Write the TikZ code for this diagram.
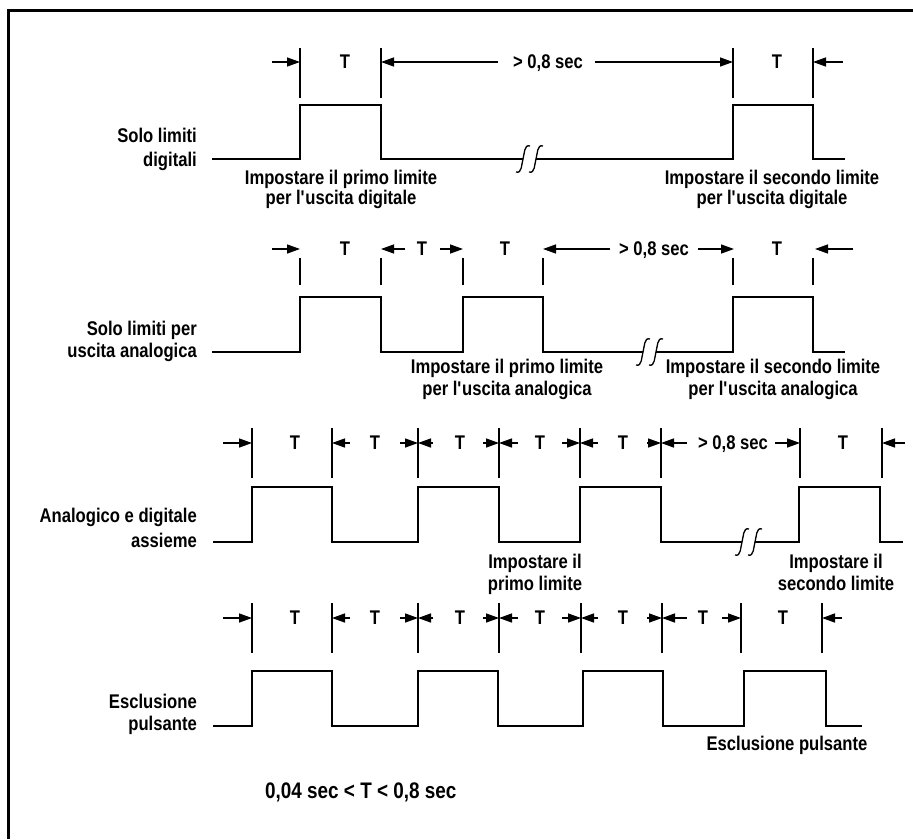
\documentclass[tikz,border=0pt]{standalone}
\usepackage{fontspec}
\setmainfont{Liberation Sans}[FakeStretch=0.84]
\usetikzlibrary{arrows.meta}
\begin{document}
\begin{tikzpicture}[x=1pt,y=-1pt,
  wave/.style={line width=1.5pt, line join=miter},
  tickline/.style={line width=1.2pt},
  dim/.style={line width=1.4pt, -{Triangle[length=13pt,width=9pt]}},
  lbl/.style={font=\fontsize{19.8}{20}\selectfont\bfseries, inner sep=0pt, anchor=base},
  lblr/.style={lbl, anchor=base east},
  squig/.pic={\draw[line width=1.3pt] (-7,13) .. controls (-1,15) and (-1.5,5) .. (0,0) .. controls (1.5,-5) and (1,-15) .. (7,-13);}]
\useasboundingbox (0,0) rectangle (913,839);
% frame
\draw[line width=2.8pt] (8.7,839) -- (8.7,10.7) -- (913,10.7);

% ---------- Row 1 ----------
\node[lblr] (r1a) at (197,142) {Solo limiti};
\node[lblr] (r1b) at (197,166) {digitali};
\draw[wave] (212,159) -- (300,159) -- (300,105) -- (381,105) -- (381,159) -- (523,159);
\draw[wave] (536,159) -- (733,159) -- (733,105) -- (813,105) -- (813,159) -- (845,159);
\pic at (523,159) {squig};
\pic at (536,159) {squig};
\foreach \x in {300,381,733,813} \draw[tickline] (\x,48) -- (\x,98);
\draw[dim] (272,62) -- (300,62);
\draw[dim] (498,62) -- (381,62);
\draw[dim] (595,62) -- (733,62);
\draw[dim] (843,62) -- (813,62);
\node[lbl] (t1a) at (345,68) {T};
\node[lbl] (s1) at (548,68) {> 0,8 sec};
\node[lbl] (t1b) at (777,68) {T};
\node[lbl] (i1a) at (341,184) {Impostare il primo limite};
\node[lbl] (i1b) at (341,204) {per l\textquotesingle uscita digitale};
\node[lbl] (i1c) at (772,184) {Impostare il secondo limite};
\node[lbl] (i1d) at (772,204) {per l\textquotesingle uscita digitale};

% ---------- Row 2 ----------
\node[lblr] (r2a) at (197,335) {Solo limiti per};
\node[lblr] (r2b) at (197,357) {uscita analogica};
\draw[wave] (212,352) -- (300,352) -- (300,297) -- (381,297) -- (381,352) -- (463,352) -- (463,297) -- (543,297) -- (543,352) -- (643,352);
\draw[wave] (656,352) -- (733,352) -- (733,297) -- (813,297) -- (813,352) -- (845,352);
\pic at (643,352) {squig};
\pic at (656,352) {squig};
\foreach \x in {300,381,463,543,733,813} \draw[tickline] (\x,258) -- (\x,285);
\draw[dim] (272,249) -- (300,249);
\draw[dim] (405,249) -- (381,249);
\draw[dim] (440,249) -- (463,249);
\draw[dim] (610,249) -- (543,249);
\draw[dim] (698,249) -- (734,249);
\draw[dim] (853,249) -- (815,249);
\node[lbl] (t2a) at (345,255) {T};
\node[lbl] (t2b) at (422,255) {T};
\node[lbl] (t2c) at (505,255) {T};
\node[lbl] (s2) at (654,255) {> 0,8 sec};
\node[lbl] (t2d) at (777,255) {T};
\node[lbl] (i2a) at (507,373) {Impostare il primo limite};
\node[lbl] (i2b) at (507,395) {per l\textquotesingle uscita analogica};
\node[lbl] (i2c) at (773,373) {Impostare il secondo limite};
\node[lbl] (i2d) at (773,395) {per l\textquotesingle uscita analogica};

% ---------- Row 3 ----------
\node[lblr] (r3a) at (197,522) {Analogico e digitale};
\node[lblr] (r3b) at (197,547) {assieme};
\draw[wave] (213,542) -- (252,542) -- (252,487) -- (332,487) -- (332,542) -- (418,542) -- (418,487) -- (499,487) -- (499,542) -- (580,542) -- (580,487) -- (661,487) -- (661,542) -- (742,542);
\draw[wave] (755,542) -- (799,542) -- (799,487) -- (880,487) -- (880,542) -- (903,542);
\pic at (742,542) {squig};
\pic at (755,542) {squig};
\foreach \x in {252,332,418,499,580,661,800,882} \draw[tickline] (\x,428) -- (\x,478);
\draw[dim] (223,443) -- (252,443);
\draw[dim] (350,443) -- (332,443);
\draw[dim] (400,443) -- (418,443);
\draw[dim] (433,443) -- (418,443);
\draw[dim] (483,443) -- (499,443);
\draw[dim] (518,443) -- (499,443);
\draw[dim] (562,443) -- (580,443);
\draw[dim] (598,443) -- (580,443);
\draw[dim] (647,443) -- (661,443);
\draw[dim] (687,443) -- (661,443);
\draw[dim] (775,443) -- (800,443);
\draw[dim] (905,443) -- (882,443);
\node[lbl] (t3a) at (295,449) {T};
\node[lbl] (t3b) at (375,449) {T};
\node[lbl] (t3c) at (460,449) {T};
\node[lbl] (t3d) at (540,449) {T};
\node[lbl] (t3e) at (623,449) {T};
\node[lbl] (s3) at (733,449) {> 0,8 sec};
\node[lbl] (t3f) at (843,449) {T};
\node[lbl] (i3a) at (535,568) {Impostare il};
\node[lbl] (i3b) at (535,590) {primo limite};
\node[lbl] (i3c) at (836,568) {Impostare il};
\node[lbl] (i3d) at (836,590) {secondo limite};

% ---------- Row 4 ----------
\node[lblr] (r4a) at (197,708) {Esclusione};
\node[lblr] (r4b) at (197,730) {pulsante};
\draw[wave] (213,726) -- (252,726) -- (252,671) -- (332,671) -- (332,726) -- (418,726) -- (418,671) -- (498,671) -- (498,726) -- (583,726) -- (583,671) -- (663,671) -- (663,726) -- (744,726) -- (744,671) -- (826,671) -- (826,726) -- (862,726);
\foreach \x in {252,332,418,499,581,662,741,822} \draw[tickline] (\x,603) -- (\x,653);
\draw[dim] (223,618) -- (252,618);
\draw[dim] (350,618) -- (332,618);
\draw[dim] (400,618) -- (418,618);
\draw[dim] (433,618) -- (418,618);
\draw[dim] (483,618) -- (499,618);
\draw[dim] (518,618) -- (499,618);
\draw[dim] (562,618) -- (581,618);
\draw[dim] (598,618) -- (581,618);
\draw[dim] (647,618) -- (662,618);
\draw[dim] (687,618) -- (662,618);
\draw[dim] (722,618) -- (741,618);
\draw[dim] (842,618) -- (822,618);
\node[lbl] (t4a) at (295,624) {T};
\node[lbl] (t4b) at (375,624) {T};
\node[lbl] (t4c) at (460,624) {T};
\node[lbl] (t4d) at (540,624) {T};
\node[lbl] (t4e) at (623,624) {T};
\node[lbl] (t4f) at (703,624) {T};
\node[lbl] (t4g) at (783,624) {T};
\node[lbl] (i4a) at (787,750) {Esclusione pulsante};
\node[lbl, anchor=base west, font=\fontsize{22.5}{24}\selectfont\bfseries] (form) at (265,798) {0,04 sec < T < 0,8 sec};
\end{tikzpicture}
\end{document}
